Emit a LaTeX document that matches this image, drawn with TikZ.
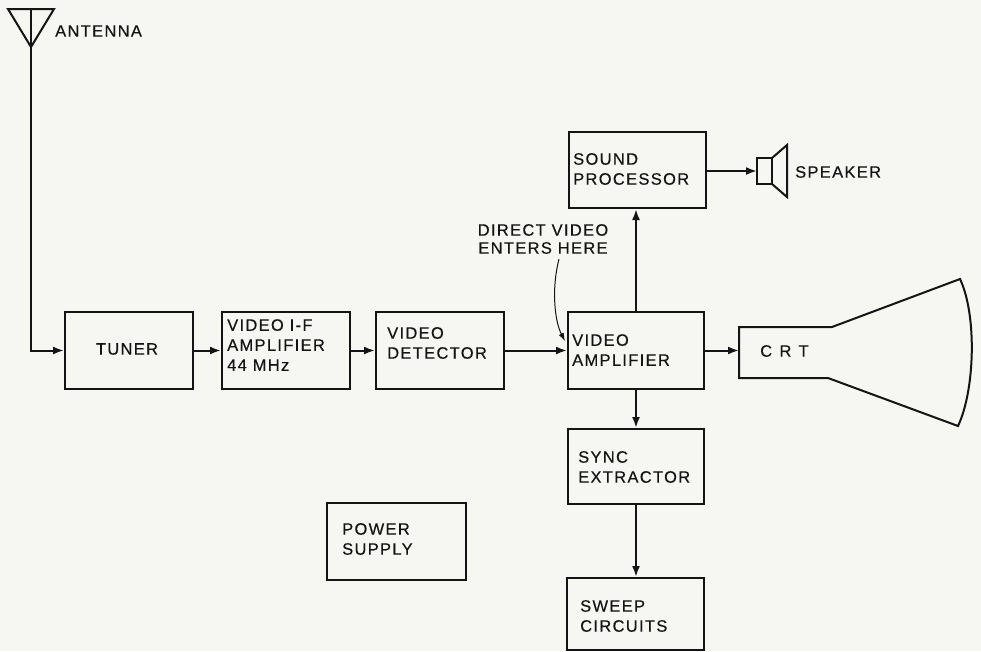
\documentclass[tikz,border=0pt]{standalone}
\usepackage{fontspec}
\setmainfont{Liberation Sans}[LetterSpace=8,FakeBold=0.35]
\usetikzlibrary{arrows.meta}
\definecolor{bg}{RGB}{246,246,243}
\definecolor{ink}{RGB}{20,20,20}
\tikzset{
  box/.style={draw=ink, line width=2pt, inner sep=0pt},
  lbl/.style={anchor=west, align=left, inner sep=0pt, text=ink, font=\fontsize{16.5}{20}\selectfont},
  wire/.style={draw=ink, line width=2pt},
  arr/.style={wire, -{Latex[length=11pt,width=8pt]}},
}
\begin{document}
\begin{tikzpicture}[x=1pt,y=-1pt]
\fill[bg] (0,0) rectangle (981,651);
\useasboundingbox (0,0) rectangle (981,651);

% boxes
\node[box, minimum width=128pt, minimum height=77pt] (tuner) at (129,350.5) {};
\node[box, minimum width=128pt, minimum height=77pt] (if) at (286,350.5) {};
\node[box, minimum width=128pt, minimum height=77pt] (det) at (440,350.5) {};
\node[box, minimum width=136pt, minimum height=77pt] (vamp) at (636,350.5) {};
\node[box, minimum width=137pt, minimum height=76pt] (sound) at (637.5,170) {};
\node[box, minimum width=136pt, minimum height=75pt] (sync) at (636,466.5) {};
\node[box, minimum width=137pt, minimum height=72pt] (sweep) at (635.5,614) {};
\node[box, minimum width=139pt, minimum height=77pt] (power) at (396.5,541.5) {};

% labels
\node[lbl, anchor=center] (tunert) at (127,349) {TUNER};
\node[lbl] (ift) at (227,345) {VIDEO I-F\\AMPLIFIER\\44 MHz};
\node[lbl] (dett) at (387,343) {VIDEO\\DETECTOR};
\node[lbl] (vampt) at (572,350) {VIDEO\\AMPLIFIER};
\node[lbl] (soundt) at (573,169) {SOUND\\PROCESSOR};
\node[lbl] (synct) at (578,467) {SYNC\\EXTRACTOR};
\node[lbl] (sweept) at (580,616) {SWEEP\\CIRCUITS};
\node[lbl] (powert) at (342,539) {POWER\\SUPPLY};
\node[lbl] (spkt) at (795,172) {SPEAKER};
\node[lbl] (antt) at (55,31) {ANTENNA};
\node[lbl, font=\fontsize{16.5}{20}\selectfont\addfontfeature{LetterSpace=45}] (crtt) at (760,351) {CRT};
\node[lbl, anchor=center, align=center, font=\fontsize{16.5}{18}\selectfont] (dirt) at (543,239) {DIRECT VIDEO\\ENTERS HERE};

% antenna
\coordinate (anttop) at (31,9);
\coordinate (antapex) at (31,47);
\draw[wire, line join=miter] (8,9) -- (54,9) -- (antapex) -- cycle;
\draw[wire] (anttop) -- (antapex);
\draw[arr] (antapex) |- (tuner.west);

% CRT
\coordinate (crtin) at (739,350.5);
\draw[wire, line join=miter] (832,327) -- (739,327) -- (739,378) -- (828,378) -- (958,426)
  .. controls (975,390) and (977,315) .. (960,279) -- cycle;

% speaker
\coordinate (spkin) at (757,171);
\draw[wire] (757,158) rectangle (772,184);
\draw[wire, line join=miter] (772,158) -- (787,145) -- (787,197) -- (772,184);

% connectors
\draw[arr] (tuner) -- (if);
\draw[arr] (if) -- (det);
\draw[arr] (det) -- (vamp);
\draw[arr] (vamp) -- (crtin);
\draw[arr] (vamp.north) -- (vamp.north |- sound.south);
\draw[arr] (sound.east |- spkin) -- (spkin);
\draw[arr] (vamp.south) -- (sync.north);
\draw[arr] (sync.south) -- (sync.south |- sweep.north);

% direct video pointer
\coordinate (dirs) at (559,259);
\coordinate (dire) at (565,341);
\draw[draw=ink, line width=1pt, -{Latex[length=8pt,width=5.5pt]}] (dirs) .. controls (551,290) and (555,322) .. (dire);
\end{tikzpicture}
\end{document}
